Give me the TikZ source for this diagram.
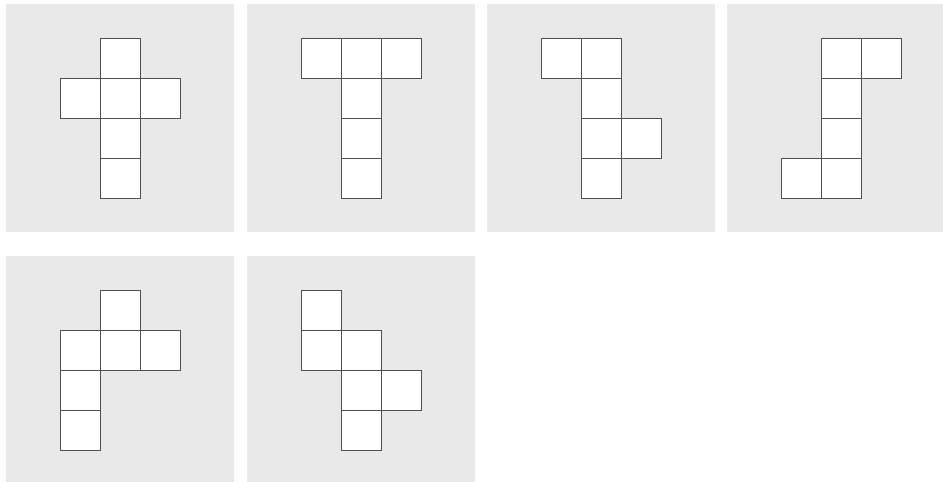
\documentclass[tikz,border=0pt]{standalone}
\usepackage{tikz}
\usepackage{xcolor}
\definecolor{panelgray}{RGB}{233,233,233}
\definecolor{edgegray}{RGB}{80,80,80}

\begin{document}
\begin{tikzpicture}[x=1pt,y=-1pt,
  panel/.style={fill=panelgray,draw=none},
  face/.style={fill=white,draw=edgegray,line width=0.7pt}]
\useasboundingbox (0,0) rectangle (943,482);
\foreach \px/\py/\cells in {
  6/4/{1/0,0/1,1/1,2/1,1/2,1/3},
  247/4/{0/0,1/0,2/0,1/1,1/2,1/3},
  487/4/{0/0,1/0,1/1,1/2,2/2,1/3},
  727/4/{1/0,2/0,1/1,1/2,0/3,1/3},
  6/256/{1/0,0/1,1/1,2/1,0/2,0/3},
  247/256/{0/0,0/1,1/1,1/2,2/2,1/3}}{
  \fill[panel] (\px,\py) rectangle ++(228,228);
  \foreach \c/\r in \cells
    \draw[face] ({\px+54+40*\c},{\py+34+40*\r}) rectangle ++(40,40);
}
\end{tikzpicture}
\end{document}
